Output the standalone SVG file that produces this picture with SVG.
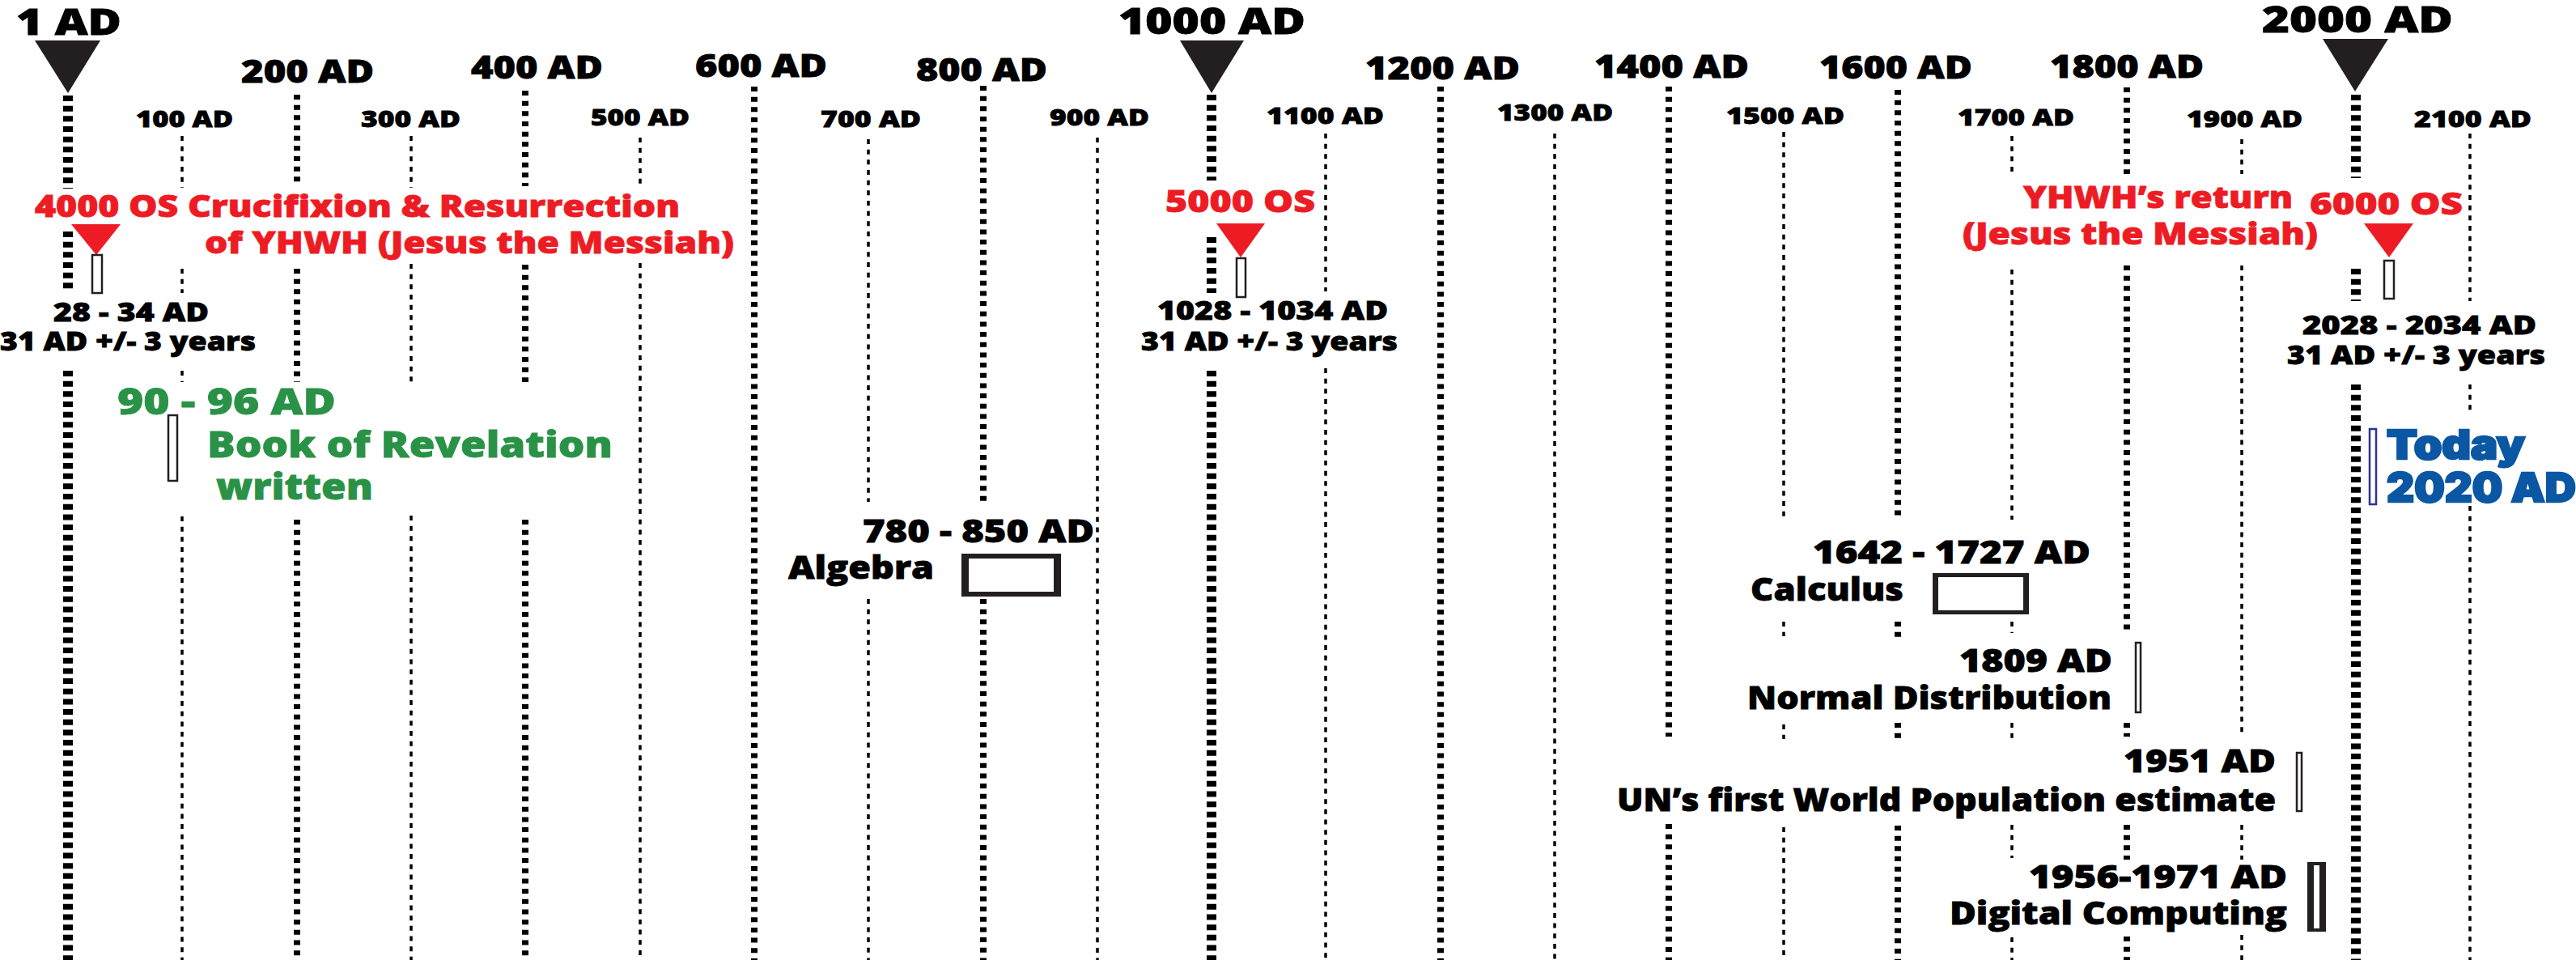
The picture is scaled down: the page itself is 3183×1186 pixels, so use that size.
<svg xmlns="http://www.w3.org/2000/svg" width="3183" height="1186" viewBox="0 0 3183 1186">
<style>
text{font-family:"Open Sans","Noto Sans","Liberation Sans",sans-serif;font-weight:800;fill:#000;stroke:#000;stroke-width:0.8}
.m1{font-size:45px}
.c2{font-size:38px}
.c1{font-size:29px}
.r{fill:#ED1C24;stroke:#ED1C24;font-size:37px}
.d{font-size:32px}
.g{fill:#2A9246;stroke:#2A9246;font-size:45px}
.e{font-size:39px}
.b{fill:#0B57A4;stroke:#0B57A4;stroke-width:2.5;font-family:Inter,"Open Sans",sans-serif;font-weight:900;font-size:50px}
.tk{stroke:#000;stroke-width:12;stroke-dasharray:7 5.67;fill:none}
.md{stroke:#000;stroke-width:8;stroke-dasharray:6 6.67;fill:none}
.tn{stroke:#000;stroke-width:3.5;stroke-dasharray:6 6.67;fill:none}
.tri{fill:#231F20}
.rtri{fill:#ED1C24}
.bar{fill:#fff;stroke:#231F20;stroke-width:2.5}
</style>
<rect width="3183" height="1186" fill="#fff"/>
<g id="connectors">
<path class="tk" d="M84 118V233M84 286V362M84 458V1186"/>
<path class="tn" d="M225 168V232M225 332V362M225 458V472M225 638V1186"/>
<path class="md" d="M367 117V230M367 332V472M367 642V1186"/>
<path class="tn" d="M508 168V232M508 326V472M508 637V1186"/>
<path class="md" d="M649 112V230M649 327V472M649 642V1186"/>
<path class="tn" d="M791 170V227M791 325V1186"/>
<path class="md" d="M932 107V1186"/>
<path class="tn" d="M1073 172V620M1073 740V1186"/>
<path class="md" d="M1215 106V625M1215 740V1186"/>
<path class="tn" d="M1356 170V1186"/>
<path class="tk" d="M1497 117V223M1497 293V362M1497 458V1186"/>
<path class="tn" d="M1638 165V360M1638 455V1186"/>
<path class="md" d="M1780 107V1186"/>
<path class="tn" d="M1921 165V1186"/>
<path class="md" d="M2062 107V910M2062 1018V1186"/>
<path class="tn" d="M2204 163V643M2204 768V786M2204 895V913M2204 1022V1186"/>
<path class="md" d="M2345 111V643M2345 768V787M2345 893V913M2345 1020V1186"/>
<path class="tn" d="M2486 168V218M2486 333V642M2486 768V782M2486 893V914M2486 1019V1060M2486 1158V1186"/>
<path class="md" d="M2628 108V215M2628 328V783M2628 893V910M2628 1019V1062M2628 1157V1186"/>
<path class="tn" d="M2770 172V215M2770 328V910M2770 1019V1062M2770 1155V1186"/>
<path class="tk" d="M2911 117V220M2911 332V372M2911 475V1186"/>
<path class="tn" d="M3052 165V372M3052 475V512M3052 625V1186"/>
</g>
<g id="axis-labels">
<g id="m-1"><text class="m1" x="20" y="43" textLength="130" lengthAdjust="spacingAndGlyphs">1 AD</text><polygon class="tri" points="43,50 124,50 84,115"/></g>
<g id="m-1000"><text class="m1" x="1382" y="42" textLength="231" lengthAdjust="spacingAndGlyphs">1000 AD</text><polygon class="tri" points="1458,50 1537,50 1497,115"/></g>
<g id="m-2000"><text class="m1" x="2795" y="40" textLength="236" lengthAdjust="spacingAndGlyphs">2000 AD</text><polygon class="tri" points="2870,48 2951,48 2910,113"/></g>
<text id="c-200" class="c2" x="298" y="102" textLength="164" lengthAdjust="spacingAndGlyphs">200 AD</text>
<text id="c-400" class="c2" x="582" y="97" textLength="163" lengthAdjust="spacingAndGlyphs">400 AD</text>
<text id="c-600" class="c2" x="859" y="95" textLength="163" lengthAdjust="spacingAndGlyphs">600 AD</text>
<text id="c-800" class="c2" x="1132" y="100" textLength="162" lengthAdjust="spacingAndGlyphs">800 AD</text>
<text id="c-1200" class="c2" x="1687" y="98" textLength="191" lengthAdjust="spacingAndGlyphs">1200 AD</text>
<text id="c-1400" class="c2" x="1970" y="96" textLength="191" lengthAdjust="spacingAndGlyphs">1400 AD</text>
<text id="c-1600" class="c2" x="2248" y="97" textLength="189" lengthAdjust="spacingAndGlyphs">1600 AD</text>
<text id="c-1800" class="c2" x="2533" y="96" textLength="190" lengthAdjust="spacingAndGlyphs">1800 AD</text>
<text id="c-100" class="c1" x="168" y="157" textLength="120" lengthAdjust="spacingAndGlyphs">100 AD</text>
<text id="c-300" class="c1" x="446" y="157" textLength="123" lengthAdjust="spacingAndGlyphs">300 AD</text>
<text id="c-500" class="c1" x="730" y="155" textLength="122" lengthAdjust="spacingAndGlyphs">500 AD</text>
<text id="c-700" class="c1" x="1014" y="157" textLength="124" lengthAdjust="spacingAndGlyphs">700 AD</text>
<text id="c-900" class="c1" x="1297" y="155" textLength="123" lengthAdjust="spacingAndGlyphs">900 AD</text>
<text id="c-1100" class="c1" x="1565" y="153" textLength="145" lengthAdjust="spacingAndGlyphs">1100 AD</text>
<text id="c-1300" class="c1" x="1850" y="149" textLength="143" lengthAdjust="spacingAndGlyphs">1300 AD</text>
<text id="c-1500" class="c1" x="2133" y="153" textLength="146" lengthAdjust="spacingAndGlyphs">1500 AD</text>
<text id="c-1700" class="c1" x="2419" y="155" textLength="144" lengthAdjust="spacingAndGlyphs">1700 AD</text>
<text id="c-1900" class="c1" x="2702" y="157" textLength="143" lengthAdjust="spacingAndGlyphs">1900 AD</text>
<text id="c-2100" class="c1" x="2983" y="157" textLength="145" lengthAdjust="spacingAndGlyphs">2100 AD</text>
</g>
<g id="ev-4000os">
<text class="r" x="43" y="268" textLength="797" lengthAdjust="spacingAndGlyphs">4000 OS Crucifixion &amp; Resurrection</text>
<text class="r" x="253" y="313" textLength="654" lengthAdjust="spacingAndGlyphs">of YHWH (Jesus the Messiah)</text>
<polygon class="rtri" points="88,277 149,277 119,315"/>
<rect class="bar" x="114" y="315" width="12" height="47"/>
<text class="d" x="66" y="397" textLength="192" lengthAdjust="spacingAndGlyphs">28 - 34 AD</text>
<text class="d" x="0" y="433" textLength="316" lengthAdjust="spacingAndGlyphs">31 AD +/- 3 years</text>
</g>
<g id="ev-5000os">
<text class="r" x="1440" y="262" textLength="185" lengthAdjust="spacingAndGlyphs">5000 OS</text>
<polygon class="rtri" points="1503,276 1563,276 1533,318"/>
<rect class="bar" x="1528" y="319" width="11" height="48"/>
<text class="d" x="1430" y="395" textLength="285" lengthAdjust="spacingAndGlyphs">1028 - 1034 AD</text>
<text class="d" x="1410" y="433" textLength="317" lengthAdjust="spacingAndGlyphs">31 AD +/- 3 years</text>
</g>
<g id="ev-6000os">
<text class="r" x="2500" y="257" textLength="333" lengthAdjust="spacingAndGlyphs">YHWH’s return</text>
<text class="r" x="2425" y="302" textLength="439" lengthAdjust="spacingAndGlyphs">(Jesus the Messiah)</text>
<text class="r" x="2854" y="265" textLength="189" lengthAdjust="spacingAndGlyphs">6000 OS</text>
<polygon class="rtri" points="2921,276 2982,276 2952,318"/>
<rect class="bar" x="2946" y="322" width="12" height="47"/>
<text class="d" x="2845" y="413" textLength="289" lengthAdjust="spacingAndGlyphs">2028 - 2034 AD</text>
<text class="d" x="2826" y="450" textLength="319" lengthAdjust="spacingAndGlyphs">31 AD +/- 3 years</text>
</g>
<g id="ev-revelation">
<text class="g" x="145" y="512" textLength="270" lengthAdjust="spacingAndGlyphs">90 - 96 AD</text>
<rect class="bar" x="208" y="513" width="11" height="81"/>
<text class="g" x="256" y="565" textLength="501" lengthAdjust="spacingAndGlyphs">Book of Revelation</text>
<text class="g" x="267" y="617" textLength="194" lengthAdjust="spacingAndGlyphs">written</text>
</g>
<g id="ev-algebra">
<text class="e" x="1066" y="670" textLength="286" lengthAdjust="spacingAndGlyphs">780 - 850 AD</text>
<text class="e" x="974" y="715" textLength="180" lengthAdjust="spacingAndGlyphs">Algebra</text>
<path fill="#231F20" fill-rule="evenodd" d="M1188 684H1311V737H1188ZM1197 690V731H1302V690Z"/>
</g>
<g id="ev-calculus">
<text class="e" x="2240" y="696" textLength="343" lengthAdjust="spacingAndGlyphs">1642 - 1727 AD</text>
<text class="e" x="2163" y="742" textLength="189" lengthAdjust="spacingAndGlyphs">Calculus</text>
<path fill="#231F20" fill-rule="evenodd" d="M2388 708H2507V759H2388ZM2395 713V754H2500V713Z"/>
</g>
<g id="ev-normal">
<text class="e" x="2421" y="830" textLength="189" lengthAdjust="spacingAndGlyphs">1809 AD</text>
<text class="e" x="2159" y="876" textLength="450" lengthAdjust="spacingAndGlyphs">Normal Distribution</text>
<rect class="bar" x="2639" y="794" width="6" height="86"/>
</g>
<g id="ev-un">
<text class="e" x="2624" y="954" textLength="188" lengthAdjust="spacingAndGlyphs">1951 AD</text>
<text class="e" x="1998" y="1002" textLength="814" lengthAdjust="spacingAndGlyphs">UN’s first World Population estimate</text>
<rect class="bar" x="2838" y="930" width="6" height="72"/>
</g>
<g id="ev-computing">
<text class="e" x="2507" y="1097" textLength="319" lengthAdjust="spacingAndGlyphs">1956-1971 AD</text>
<text class="e" x="2409" y="1142" textLength="417" lengthAdjust="spacingAndGlyphs">Digital Computing</text>
<path fill="#231F20" fill-rule="evenodd" d="M2851 1065H2874V1151H2851ZM2859 1069V1147H2866V1069Z"/>
</g>
<g id="ev-today">
<rect x="2928" y="530" width="8" height="93" fill="#fff" stroke="#2E3192" stroke-width="2.5"/>
<text class="b" x="2949" y="567" textLength="171" lengthAdjust="spacingAndGlyphs">Today</text>
<text class="b" x="2949" y="620" textLength="234" lengthAdjust="spacingAndGlyphs">2020 AD</text>
</g>
</svg>
